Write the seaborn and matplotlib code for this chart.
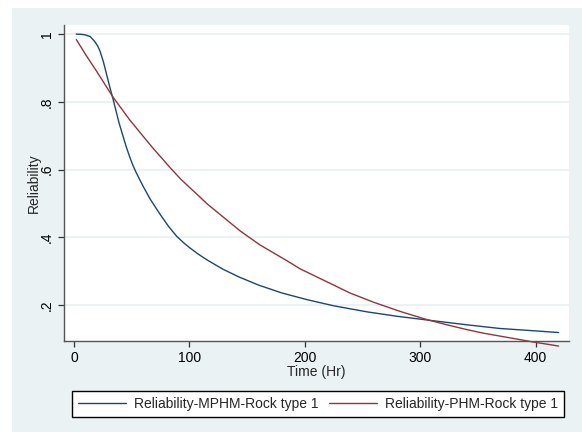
import matplotlib
matplotlib.use("Agg")
import matplotlib.pyplot as plt
import seaborn as sns
import pandas as pd
from matplotlib.patches import Rectangle

# ---- data ----
t_mphm = [2, 6, 9.5, 14, 18, 20.5, 22.5, 25.4, 28.3, 31.2, 34, 37, 39, 42, 45, 48.6,
          51, 53.5, 57, 60, 66, 74.6, 82, 89, 95, 100, 107, 115, 129, 143, 160, 180,
          202, 225, 254, 280, 306, 340, 369, 395, 420]
r_mphm = [1.000, 0.9995, 0.998, 0.993, 0.978, 0.965, 0.950, 0.919, 0.880, 0.841,
          0.806, 0.765, 0.738, 0.704, 0.670, 0.634, 0.613, 0.594, 0.570, 0.550,
          0.513, 0.468, 0.432, 0.403, 0.384, 0.370, 0.352, 0.334, 0.306, 0.283,
          0.259, 0.236, 0.216, 0.198, 0.180, 0.167, 0.156, 0.142, 0.131, 0.125, 0.119]
t_phm = [2, 10, 20, 34, 48, 60, 69, 75, 84, 93, 106, 115, 130, 144, 161, 184, 196,
         213, 239, 260, 283, 306, 323, 340, 355, 370, 385, 398, 413, 420]
r_phm = [0.984, 0.940, 0.888, 0.813, 0.748, 0.698, 0.661, 0.638, 0.603, 0.570, 0.529,
         0.500, 0.458, 0.419, 0.378, 0.332, 0.307, 0.279, 0.236, 0.208, 0.181, 0.157,
         0.142, 0.128, 0.117, 0.108, 0.099, 0.091, 0.083, 0.079]
labels = ["Reliability-MPHM-Rock type 1", "Reliability-PHM-Rock type 1"]
xticks = [0, 100, 200, 300, 400]
yticks = [0.2, 0.4, 0.6, 0.8, 1.0]
ytick_labels = [".2", ".4", ".6", ".8", "1"]

df = pd.concat([
    pd.DataFrame({"Time": t_mphm, "R": r_mphm, "series": labels[0]}),
    pd.DataFrame({"Time": t_phm, "R": r_phm, "series": labels[1]}),
])

sns.set_theme(style="white")
plt.rcParams["font.family"] = ["Liberation Sans", "DejaVu Sans"]

W, H = 582, 432
fig = plt.figure(figsize=(W / 100, H / 100), dpi=100, facecolor="white")
fig.patches.append(Rectangle((12 / W, 0), 1 - 12 / W, (H - 8) / H,
                             transform=fig.transFigure, facecolor="#EAF2F3",
                             edgecolor="none", zorder=-10))

ax = fig.add_axes([64 / W, 1 - 341 / H, (569 - 64) / W, (341 - 25) / H])
ax.set_facecolor("white")

palette = {labels[0]: "#1A476F", labels[1]: "#90353B"}
sns.lineplot(data=df, x="Time", y="R", hue="series", palette=palette, ax=ax,
             sort=True, estimator=None, linewidth=1.0, legend=False)
for ln in ax.lines:
    ln.set_clip_on(False)
    ln.set_solid_joinstyle("round")

ax.set_xlim(-8.7, 429)
ax.set_ylim(0.094, 1.027)
ax.set_xticks(xticks)
ax.set_xticklabels([str(v) for v in xticks])
ax.set_yticks(yticks)
ax.set_yticklabels(ytick_labels, rotation=90, va="center")

ax.grid(axis="y", color="#EAF2F3", linewidth=1.5)
ax.grid(axis="x", visible=False)
ax.set_axisbelow(True)

for s in ["top", "right"]:
    ax.spines[s].set_visible(False)
for s in ["left", "bottom"]:
    ax.spines[s].set_color("#555555")
    ax.spines[s].set_linewidth(1.0)

ax.tick_params(axis="both", direction="out", length=4.5, width=0.9, color="#333333",
               labelsize=10, labelcolor="black", pad=3, bottom=True, left=True)

ax.set_xlabel("Time (Hr)", fontsize=10, labelpad=0)
ax.set_ylabel("Reliability", fontsize=10, labelpad=-1)

handles = [plt.Line2D([], [], color=palette[l], linewidth=1.0) for l in labels]
leg = fig.legend(handles, labels, ncol=2, loc="center",
                 bbox_to_anchor=(318 / W, 1 - 404 / H), frameon=True,
                 fancybox=False, fontsize=10, handlelength=3.45, handletextpad=0.58,
                 columnspacing=0.72, borderpad=0.45, borderaxespad=0)
leg.get_frame().set_edgecolor("black")
leg.get_frame().set_linewidth(1.0)
leg.get_frame().set_facecolor("white")
leg.get_frame().set_alpha(1)

fig.savefig("out.png", dpi=100, facecolor="white")
